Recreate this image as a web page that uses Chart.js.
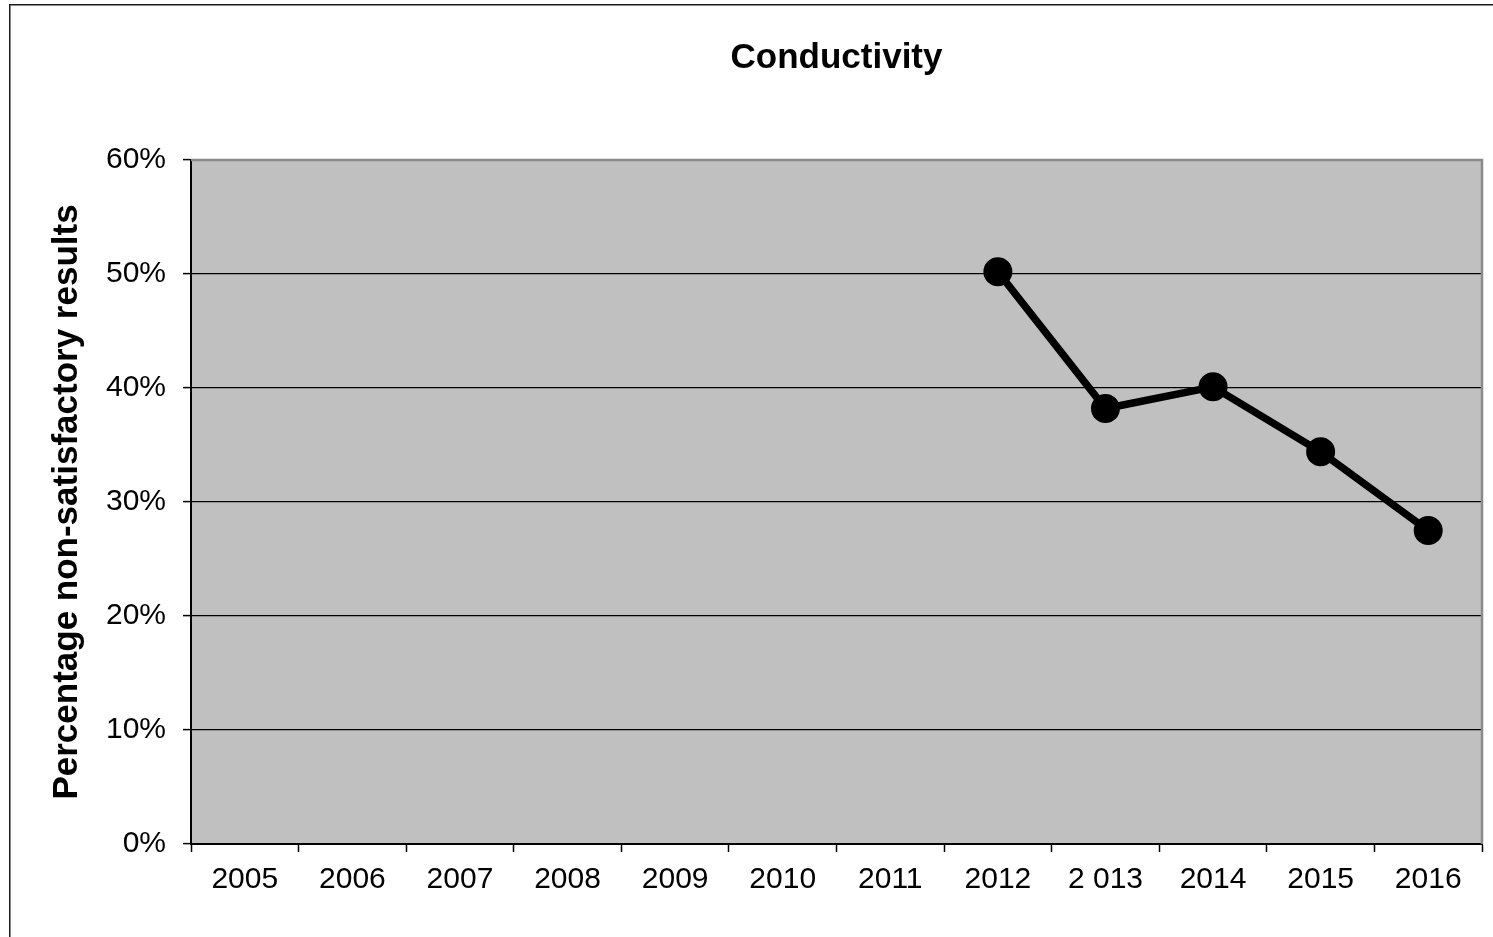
<!DOCTYPE html>
<html>
<head>
<meta charset="utf-8">
<title>Conductivity</title>
<script src="https://cdn.jsdelivr.net/npm/chart.js@4.4.1/dist/chart.umd.min.js"></script>
<style>
  html, body { margin: 0; padding: 0; background: #ffffff; }
  #wrap { width: 1493px; height: 937px; position: relative; }
  canvas { display: block; }
</style>
</head>
<body>
<div id="wrap"><canvas id="chart" width="1493" height="937"></canvas></div>
<script>
// Survey years shown on the category axis (label text kept as printed)
const years = ['2005', '2006', '2007', '2008', '2009', '2010', '2011', '2012', '2 013', '2014', '2015', '2016'];
// Share of non-satisfactory conductivity results, in percent (no data before 2012)
const nonSatisfactory = [null, null, null, null, null, null, null, 50.2, 38.2, 40.1, 34.4, 27.5];
// Value-axis range and step, in percent
const yMin = 0;
const yMax = 60;
const yStep = 10;

const FONT = "'Liberation Sans', Arial, Helvetica, sans-serif";
const PAD = { left: 0, right: 11, top: 0, bottom: 0 };
const PLOT_LEFT = 191;
const PLOT_BOTTOM = 844;

// Page frame, grey plot fill and grey plot edges
const framePlugin = {
  id: 'framePlugin',
  beforeDraw(chart) {
    const ctx = chart.ctx;
    const a = chart.chartArea;
    ctx.save();
    ctx.fillStyle = '#ffffff';
    ctx.fillRect(0, 0, chart.width, chart.height);
    ctx.strokeStyle = '#1a1a1a';
    ctx.lineWidth = 1.5;
    ctx.beginPath();
    ctx.moveTo(9.75, chart.height + 5);
    ctx.lineTo(9.75, 4.75);
    ctx.lineTo(chart.width + 5, 4.75);
    ctx.stroke();
    ctx.fillStyle = '#c0c0c0';
    ctx.fillRect(a.left, a.top, a.right - a.left, a.bottom - a.top);
    ctx.restore();
  },
  afterDraw(chart) {
    const ctx = chart.ctx;
    const a = chart.chartArea;
    ctx.save();
    ctx.strokeStyle = '#8a8a8a';
    ctx.lineWidth = 2.5;
    ctx.beginPath();
    ctx.moveTo(a.left, a.top);
    ctx.lineTo(a.right, a.top);
    ctx.lineTo(a.right, a.bottom);
    ctx.stroke();
    ctx.restore();
  }
};

new Chart(document.getElementById('chart'), {
  type: 'line',
  data: {
    labels: years,
    datasets: [{
      label: 'Conductivity',
      data: nonSatisfactory,
      borderColor: '#000000',
      backgroundColor: '#000000',
      borderWidth: 7.5,
      pointRadius: 13.5,
      pointBorderWidth: 2,
      pointBackgroundColor: '#000000',
      pointBorderColor: '#000000',
      pointHoverRadius: 13.5,
      tension: 0,
      spanGaps: false,
      fill: false
    }]
  },
  options: {
    responsive: false,
    animation: false,
    events: [],
    layout: { padding: PAD, autoPadding: false },
    plugins: {
      legend: { display: false },
      tooltip: { enabled: false },
      title: {
        display: true,
        fullSize: false,
        text: 'Conductivity',
        color: '#000000',
        font: { family: FONT, size: 35, weight: 'bold', lineHeight: 1.2 },
        padding: { top: 37, bottom: 81 }
      }
    },
    scales: {
      x: {
        type: 'category',
        offset: true,
        afterFit(scale) {
          scale.height = 937 - PLOT_BOTTOM - PAD.bottom;
          scale.paddingLeft = 0;
          scale.paddingRight = 0;
        },
        grid: {
          offset: true,
          drawOnChartArea: false,
          drawTicks: true,
          tickLength: 8,
          tickColor: '#000000',
          tickWidth: 1.5
        },
        border: { display: true, color: '#000000', width: 2 },
        ticks: {
          color: '#000000',
          font: { family: FONT, size: 30 },
          padding: 10,
          maxRotation: 0,
          minRotation: 0,
          autoSkip: false
        }
      },
      y: {
        min: yMin,
        max: yMax,
        afterFit(scale) {
          scale.width = PLOT_LEFT - PAD.left;
          scale.paddingTop = 0;
          scale.paddingBottom = 0;
        },
        grid: {
          color: (ctx) => (ctx.tick && ctx.tick.value === yMax) ? 'rgba(0,0,0,0)' : '#000000',
          lineWidth: 1.2,
          tickColor: '#000000',
          tickLength: 8,
          tickWidth: 1.5
        },
        border: { display: true, color: '#000000', width: 2 },
        ticks: {
          stepSize: yStep,
          color: '#000000',
          font: { family: FONT, size: 30 },
          padding: 17,
          callback: (v) => v + '%'
        },
        title: {
          display: true,
          text: 'Percentage non-satisfactory results',
          color: '#000000',
          font: { family: FONT, size: 35, weight: 'bold', lineHeight: 1.2 },
          padding: { top: 46, bottom: 0 }
        }
      }
    }
  },
  plugins: [framePlugin]
});
</script>
</body>
</html>
